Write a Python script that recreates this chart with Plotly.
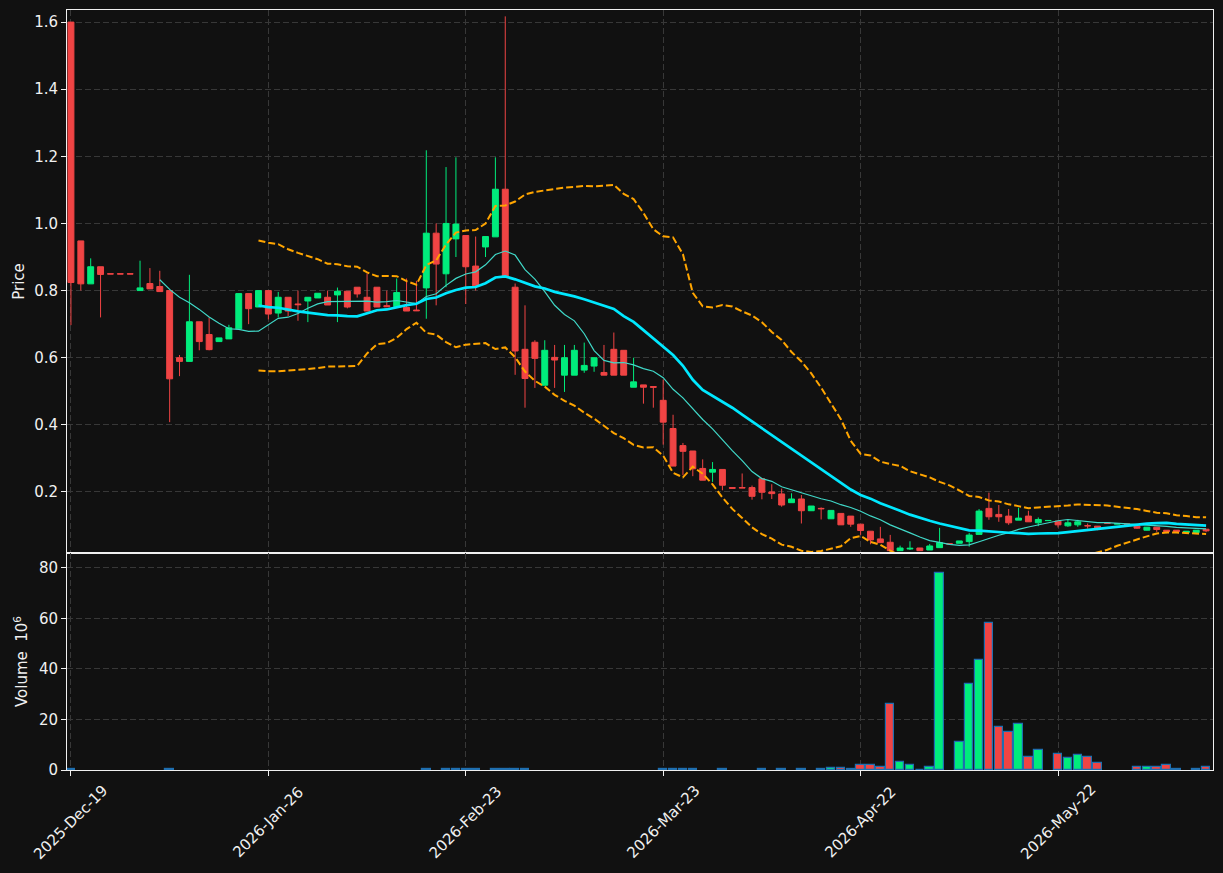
import pandas as pd
import plotly.graph_objects as go
from plotly.subplots import make_subplots

# ---------------- data ----------------
SKIP_DATES = ['2025-12-24', '2025-12-25', '2025-12-26', '2026-01-01', '2026-01-02',
              '2026-01-19', '2026-04-03', '2026-04-06', '2026-05-01', '2026-05-04',
              '2026-05-25']
dates = [d.strftime('%Y-%m-%d') for d in pd.bdate_range('2025-12-19', '2026-06-15')
         if d.strftime('%Y-%m-%d') not in SKIP_DATES]

open_ = [1.600, 0.948, 0.820, 0.871, 0.850, 0.850, 0.850, 0.800, 0.821, 0.812,
         0.800, 0.600, 0.589, 0.707, 0.669, 0.648, 0.656, 0.686, 0.791, 0.751,
         0.800, 0.733, 0.780, 0.760, 0.769, 0.778, 0.780, 0.787, 0.798, 0.810,
         0.780, 0.810, 0.755, 0.752, 0.750, 0.742, 0.808, 0.971, 0.850, 0.954,
         0.964, 0.873, 0.930, 0.960, 1.102, 0.810, 0.625, 0.646, 0.518, 0.601,
         0.548, 0.548, 0.563, 0.575, 0.556, 0.625, 0.622, 0.512, 0.519, 0.514,
         0.473, 0.389, 0.338, 0.322, 0.270, 0.259, 0.267, 0.213, 0.213, 0.213,
         0.239, 0.200, 0.194, 0.168, 0.179, 0.144, 0.151, 0.120, 0.136, 0.128,
         0.104, 0.083, 0.060, 0.050, 0.025, 0.030, 0.033, 0.027, 0.034, 0.0455,
         0.047, 0.052, 0.0735, 0.151, 0.133, 0.128, 0.116, 0.128, 0.108, 0.1145,
         0.113, 0.099, 0.102, 0.0995, 0.098, 0.1075, 0.1045, 0.1042, 0.098, 0.086,
         0.095, 0.086, 0.086, 0.079, 0.079, 0.089]
high = [1.600, 0.948, 0.896, 0.871, 0.850, 0.850, 0.850, 0.889, 0.867, 0.859,
        0.800, 0.608, 0.847, 0.707, 0.720, 0.659, 0.698, 0.791, 0.791, 0.800,
        0.800, 0.796, 0.780, 0.800, 0.780, 0.792, 0.800, 0.809, 0.798, 0.810,
        0.851, 0.810, 0.800, 0.836, 0.836, 0.829, 1.218, 1.000, 1.168, 1.197,
        0.964, 0.961, 0.961, 1.197, 1.617, 0.821, 0.756, 0.652, 0.652, 0.638,
        0.638, 0.638, 0.645, 0.600, 0.638, 0.675, 0.622, 0.600, 0.519, 0.514,
        0.535, 0.430, 0.346, 0.322, 0.297, 0.289, 0.267, 0.213, 0.255, 0.219,
        0.239, 0.223, 0.210, 0.196, 0.191, 0.158, 0.154, 0.145, 0.136, 0.128,
        0.104, 0.083, 0.096, 0.072, 0.040, 0.053, 0.033, 0.045, 0.093, 0.0455,
        0.054, 0.078, 0.149, 0.198, 0.161, 0.149, 0.153, 0.144, 0.124, 0.1145,
        0.113, 0.117, 0.117, 0.106, 0.098, 0.1075, 0.1045, 0.1042, 0.098, 0.095,
        0.095, 0.086, 0.086, 0.083, 0.086, 0.089]
low = [0.697, 0.800, 0.820, 0.720, 0.8495, 0.8495, 0.8495, 0.800, 0.805, 0.797,
       0.408, 0.545, 0.589, 0.622, 0.622, 0.648, 0.656, 0.686, 0.700, 0.751,
       0.714, 0.720, 0.724, 0.710, 0.706, 0.778, 0.757, 0.706, 0.747, 0.779,
       0.739, 0.751, 0.751, 0.752, 0.739, 0.739, 0.716, 0.756, 0.810, 0.900,
       0.760, 0.800, 0.900, 0.960, 0.842, 0.549, 0.451, 0.510, 0.518, 0.510,
       0.498, 0.548, 0.555, 0.558, 0.548, 0.548, 0.548, 0.512, 0.463, 0.451,
       0.341, 0.277, 0.250, 0.247, 0.235, 0.230, 0.205, 0.211, 0.212, 0.177,
       0.178, 0.179, 0.156, 0.168, 0.106, 0.144, 0.118, 0.120, 0.102, 0.096,
       0.072, 0.044, 0.049, 0.022, 0.025, 0.027, 0.025, 0.027, 0.034, 0.045,
       0.047, 0.037, 0.0735, 0.117, 0.111, 0.102, 0.116, 0.111, 0.098, 0.115,
       0.094, 0.096, 0.096, 0.091, 0.086, 0.107, 0.105, 0.104, 0.090, 0.085,
       0.081, 0.077, 0.080, 0.079, 0.079, 0.080]
close = [0.824, 0.820, 0.871, 0.848, 0.8495, 0.8495, 0.8495, 0.808, 0.805, 0.797,
         0.537, 0.589, 0.707, 0.648, 0.624, 0.659, 0.689, 0.791, 0.746, 0.800,
         0.730, 0.780, 0.739, 0.758, 0.780, 0.792, 0.757, 0.798, 0.751, 0.790,
         0.739, 0.751, 0.752, 0.794, 0.739, 0.740, 0.971, 0.879, 1.000, 0.998,
         0.871, 0.814, 0.961, 1.102, 0.842, 0.620, 0.538, 0.598, 0.622, 0.593,
         0.600, 0.622, 0.577, 0.600, 0.548, 0.548, 0.548, 0.528, 0.512, 0.512,
         0.408, 0.277, 0.321, 0.269, 0.235, 0.267, 0.220, 0.211, 0.212, 0.187,
         0.199, 0.195, 0.161, 0.179, 0.144, 0.158, 0.150, 0.145, 0.102, 0.104,
         0.085, 0.057, 0.049, 0.025, 0.033, 0.032, 0.025, 0.039, 0.049, 0.045,
         0.054, 0.0715, 0.143, 0.126, 0.126, 0.108, 0.122, 0.111, 0.118, 0.1150,
         0.102, 0.108, 0.111, 0.099, 0.093, 0.107, 0.105, 0.104, 0.092, 0.095,
         0.088, 0.082, 0.082, 0.083, 0.086, 0.084]
# volume in millions (None = no trades)
volume = [0.3, None, None, None, None, None, None, None, None, None,
          0.3, None, None, None, None, None, None, None, None, None,
          None, None, None, None, None, None, None, None, None, None,
          None, None, None, None, None, None, 0.3, None, 0.3, 0.3,
          0.3, 0.3, None, 0.3, 0.3, 0.3, 0.3, None, None, None,
          None, None, None, None, None, None, None, None, None, None,
          0.3, 0.3, 0.3, 0.3, None, None, 0.3, None, None, None,
          0.3, None, 0.3, None, 0.3, None, 0.3, 0.66, 0.66, 0.2,
          1.85, 1.85, 1.3, 26.1, 3.0, 1.85, 0.1, 1.06, 78.1, None,
          11.0, 34.0, 43.6, 58.3, 17.0, 15.0, 18.1, 5.0, 7.8, None,
          6.2, 4.6, 5.8, 5.0, 2.65, None, None, None, 1.06, 1.06,
          1.06, 1.85, 0.2, None, 0.2, 1.06]

TICK_IDX = [0, 20, 40, 60, 80, 100]

UP = '#00ec7c'
DOWN = '#f04444'
BG = '#111111'
GRID = '#383838'
TXT = '#f0f0f0'

# ---------------- indicators ----------------
cs = pd.Series(close)
ma10 = cs.rolling(10).mean()
ma20 = cs.rolling(20).mean()
sd20 = cs.rolling(20).std(ddof=0)
bb_up = ma20 + 2 * sd20
bb_lo = ma20 - 2 * sd20

vol_colors = [UP if c >= o else DOWN for o, c in zip(open_, close)]

fig = make_subplots(rows=2, cols=1, shared_xaxes=True, vertical_spacing=0,
                    row_heights=[0.7145, 0.2855])

fig.add_trace(go.Candlestick(
    x=dates, open=open_, high=high, low=low, close=close,
    increasing=dict(line=dict(color=UP, width=1), fillcolor=UP),
    decreasing=dict(line=dict(color=DOWN, width=1), fillcolor=DOWN),
    whiskerwidth=0, showlegend=False, hoverinfo='skip'), row=1, col=1)

fig.add_trace(go.Scatter(x=dates, y=bb_up, mode='lines',
                         line=dict(color='#ffa500', width=2, dash='7px,3px'),
                         showlegend=False, hoverinfo='skip'), row=1, col=1)
fig.add_trace(go.Scatter(x=dates, y=bb_lo, mode='lines',
                         line=dict(color='#ffa500', width=2, dash='7px,3px'),
                         showlegend=False, hoverinfo='skip'), row=1, col=1)
fig.add_trace(go.Scatter(x=dates, y=ma10, mode='lines',
                         line=dict(color='#40d8c8', width=1.2),
                         showlegend=False, hoverinfo='skip'), row=1, col=1)
fig.add_trace(go.Scatter(x=dates, y=ma20, mode='lines',
                         line=dict(color='#00e8ff', width=2.7),
                         showlegend=False, hoverinfo='skip'), row=1, col=1)

fig.add_trace(go.Bar(x=dates, y=volume, width=0.86,
                     marker=dict(color=vol_colors, line=dict(color='#1f6fb0', width=1.2)),
                     showlegend=False, hoverinfo='skip'), row=2, col=1)

tickvals = [dates[i] for i in TICK_IDX]
ticktext = [pd.Timestamp(dates[i]).strftime('%Y-%b-%d') for i in TICK_IDX]

axis_common = dict(showline=True, mirror=True, linecolor=TXT, linewidth=1,
                   gridcolor=GRID, griddash='6px,3px', gridwidth=1, zeroline=False,
                   automargin=False,
                   tickfont=dict(color=TXT, size=15, family='DejaVu Sans'),
                   ticks='outside', ticklen=5, tickcolor=TXT)

fig.update_xaxes(type='category', categoryorder='array', categoryarray=dates,
                 range=[-0.4, 115.7], tickmode='array', tickvals=tickvals,
                 ticktext=ticktext, showticklabels=False,
                 rangeslider=dict(visible=False), **axis_common)
fig.update_xaxes(ticks='', row=1, col=1)

# rotated date labels centred under their ticks
for tv, tt in zip(tickvals, ticktext):
    fig.add_annotation(x=tv, xref='x2', y=-0.0684, yref='paper', text=tt,
                       textangle=-45, showarrow=False, xanchor='center',
                       yanchor='middle',
                       font=dict(color=TXT, size=15, family='DejaVu Sans'))

fig.update_yaxes(range=[0.018, 1.636], tickmode='array',
                 tickvals=[0.2, 0.4, 0.6, 0.8, 1.0, 1.2, 1.4, 1.6],
                 ticktext=['0.2', '0.4', '0.6', '0.8', '1.0', '1.2', '1.4', '1.6'],
                 title=dict(text='Price', standoff=5,
                            font=dict(color=TXT, size=15, family='DejaVu Sans')),
                 row=1, col=1, **axis_common)
fig.update_yaxes(range=[0, 85.9], tickmode='array', tickvals=[0, 20, 40, 60, 80],
                 title=dict(text='Volume  10<sup>6</sup>', standoff=7,
                            font=dict(color=TXT, size=15, family='DejaVu Sans')),
                 row=2, col=1, **axis_common)

fig.update_layout(width=1223, height=873, paper_bgcolor=BG, plot_bgcolor=BG,
                  margin=dict(l=67, r=10, t=10, b=103),
                  boxgap=0.4, boxgroupgap=0, bargap=0,
                  font=dict(family='DejaVu Sans', color=TXT))

fig.write_html('out.html')
